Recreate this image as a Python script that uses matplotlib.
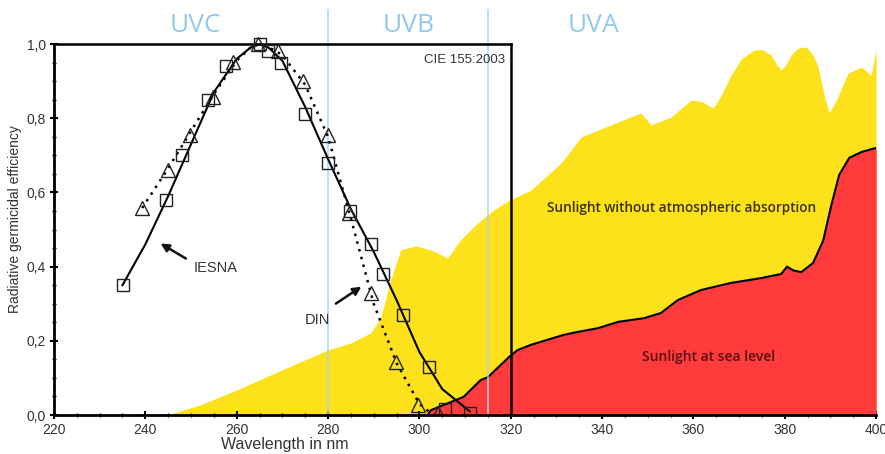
import numpy as np
import matplotlib.pyplot as plt
from matplotlib.ticker import MultipleLocator, FuncFormatter

# Sonnenspektrum ohne Atmosphaere (gelb)
sun_top_nm = [244.8, 252.0, 259.9, 269.6, 279.9, 284.9, 289.3, 291.5, 293.7, 295.9,
              299.2, 302.5, 306.2, 309.0, 312.3, 315.6, 319.8, 324.4, 331.0, 335.4,
              341.9, 348.5, 350.7, 355.1, 359.5, 361.8, 364.3, 366.0, 368.2, 370.5,
              373.3, 375.0, 377.0, 378.2, 379.2, 380.3, 381.4, 382.5, 383.6, 384.8,
              386.2, 387.3, 388.6, 389.7, 391.3, 393.9, 396.8, 398.9, 400.0]
sun_top_val = [0.0, 0.027, 0.067, 0.12, 0.175, 0.194, 0.221, 0.261, 0.364, 0.445,
               0.456, 0.445, 0.423, 0.472, 0.512, 0.547, 0.58, 0.606, 0.679, 0.749,
               0.782, 0.814, 0.782, 0.803, 0.849, 0.845, 0.827, 0.86, 0.916, 0.96,
               0.984, 0.985, 0.97, 0.945, 0.93, 0.945, 0.97, 0.985, 0.992, 0.99,
               0.97, 0.938, 0.863, 0.814, 0.849, 0.922, 0.938, 0.916, 0.984]

# Sonnenspektrum auf Meereshoehe (rot)
sun_sea_nm = [301.8, 302.5, 309.7, 313.4, 315.0, 319.6, 321.5, 324.4, 331.6, 334.7,
              339.1, 343.5, 349.2, 352.9, 355.1, 356.6, 361.7, 368.2, 374.8, 379.2,
              380.5, 381.8, 383.6, 386.2, 388.4, 390.2, 391.9, 394.1, 396.8, 400.0]
sun_sea_val = [0.0, 0.013, 0.049, 0.094, 0.102, 0.156, 0.175, 0.189, 0.216, 0.224,
               0.234, 0.251, 0.261, 0.275, 0.296, 0.31, 0.337, 0.356, 0.369, 0.38,
               0.40, 0.39, 0.385, 0.41, 0.47, 0.566, 0.647, 0.693, 0.709, 0.72]

# IESNA Kurve (Linie) i mjerne tocke (kvadrati)
iesna_nm = [235, 240, 245, 250, 255, 260, 263, 265, 267, 270, 275, 280, 285, 290,
            295, 300, 305, 311]
iesna_val = [0.35, 0.46, 0.59, 0.73, 0.87, 0.96, 0.99, 1.0, 0.99, 0.955, 0.83, 0.69,
             0.555, 0.44, 0.31, 0.17, 0.07, 0.01]
iesna_pts_nm = [235.1, 244.5, 248.1, 253.8, 257.7, 265.2, 266.9, 269.8, 275.0, 280.1,
                284.9, 289.3, 292.1, 296.5, 302.0, 305.5, 311.0]
iesna_pts_val = [0.35, 0.58, 0.70, 0.85, 0.94, 1.0, 0.98, 0.95, 0.81, 0.68,
                 0.55, 0.46, 0.38, 0.27, 0.13, 0.015, 0.005]

# DIN Kurve (punktirano) i trokuti
din_nm = [239.3, 245, 250, 255, 260, 263, 265, 268, 270, 275, 280, 285, 290, 295, 300, 303]
din_val = [0.558, 0.665, 0.765, 0.865, 0.955, 0.99, 1.0, 0.985, 0.97, 0.89, 0.75,
           0.53, 0.30, 0.14, 0.03, 0.0]
din_pts_nm = [239.3, 245.0, 249.8, 254.9, 259.3, 264.7, 269.1, 274.6, 279.9, 284.5,
              289.3, 294.8, 299.6, 304.0]
din_pts_val = [0.558, 0.66, 0.755, 0.857, 0.951, 1.0, 0.98, 0.90, 0.755, 0.544,
               0.329, 0.143, 0.027, 0.005]

uv_bands = ['UVC', 'UVB', 'UVA']
uv_label_nm = [251.0, 297.6, 338.2]
uv_borders = [280, 315]

fig = plt.figure(figsize=(8.85, 4.54), dpi=100)
ax = fig.add_axes([0.061, 0.0859, 0.929, 0.9141])

ax.fill_between(sun_top_nm, 0, sun_top_val, color='#FDE11B', lw=0, zorder=1)
ax.fill_between(sun_sea_nm, 0, sun_sea_val, color='#FF3B3B', lw=0, zorder=2)
ax.plot(sun_sea_nm, sun_sea_val, color='black', lw=1.5, zorder=3)

for b in uv_borders:
    ax.plot([b, b], [0, 1.092], color='#A9D3F0', lw=1.2, alpha=0.9, zorder=4)
for name, xn in zip(uv_bands, uv_label_nm):
    ax.text(xn, 1.05, name, color='#93C9EE', fontsize=19, family='Open Sans',
            ha='center', va='center', zorder=8)

# okvir lijevog dijagrama
ax.plot([220, 320], [1.0, 1.0], color='black', lw=1.8, zorder=5)
ax.plot([320, 320], [0, 1.0], color='black', lw=1.8, zorder=5)

ax.plot(iesna_nm, iesna_val, color='black', lw=1.5, zorder=6)
ax.plot(din_nm, din_val, color='black', lw=1.8, ls=(0, (1, 2.2)), zorder=6)
ax.plot(iesna_pts_nm, iesna_pts_val, ls='none', marker='s', ms=9, mfc='none',
        mec='#222222', mew=1.0, zorder=7)
ax.plot(din_pts_nm, din_pts_val, ls='none', marker='^', ms=10, mfc='none',
        mec='#222222', mew=1.0, zorder=7)

ax.text(318.7, 0.957, 'CIE 155:2003', fontsize=9.5, ha='right', va='center',
        color='#333333', family='Liberation Sans', zorder=8)
ax.text(250.5, 0.395, 'IESNA', fontsize=10.5, ha='left', va='center',
        color='#333333', family='Liberation Sans', zorder=8)
ax.annotate('', xy=(242.8, 0.466), xytext=(249.4, 0.418),
            arrowprops=dict(arrowstyle='-|>', color='#111111', lw=1.8,
                            mutation_scale=12), zorder=8)
ax.text(275.0, 0.256, 'DIN', fontsize=10.5, ha='left', va='center',
        color='#333333', family='Liberation Sans', zorder=8)
ax.annotate('', xy=(287.8, 0.350), xytext=(281.2, 0.296),
            arrowprops=dict(arrowstyle='-|>', color='#111111', lw=1.8,
                            mutation_scale=12), zorder=8)

ax.text(357.5, 0.558, 'Sunlight without atmospheric absorption', fontsize=9.8,
        ha='center', va='center', color='#3A3200', family='Open Sans',
        weight='semibold', zorder=8)
ax.text(363.4, 0.156, 'Sunlight at sea level', fontsize=10, ha='center',
        va='center', color='#5A0F0F', family='Open Sans', weight='semibold', zorder=8)

ax.set_xlim(220, 400)
ax.set_ylim(0, 1.1186)
for s in ['top', 'right']:
    ax.spines[s].set_visible(False)
ax.spines['left'].set_bounds(0, 1.0)
ax.spines['left'].set_linewidth(2)
ax.spines['bottom'].set_linewidth(2)
ax.spines['left'].set_zorder(9)
ax.spines['bottom'].set_zorder(9)

ax.set_xticks(np.arange(220, 401, 20))
ax.xaxis.set_minor_locator(MultipleLocator(5))
ax.set_yticks(np.arange(0, 1.01, 0.2))
ax.set_yticks([v for v in np.arange(0, 1.001, 0.05) if abs(v / 0.2 - round(v / 0.2)) > 0.01],
              minor=True)
ax.yaxis.set_major_formatter(FuncFormatter(lambda v, p: f'{v:.1f}'.replace('.', ',')))
ax.tick_params(axis='both', which='major', direction='inout', length=6, width=1.5,
               labelsize=10, labelcolor='#333333', pad=3)
ax.tick_params(axis='both', which='minor', direction='inout', length=3, width=1)
for lab in ax.get_xticklabels() + ax.get_yticklabels():
    lab.set_family('Liberation Sans')

ax.set_xlabel('Wavelength in nm', fontsize=11.5, family='Liberation Sans',
              color='#333333')
ax.xaxis.set_label_coords(0.281, -0.052)
ax.text(-0.047, 0.472, 'Radiative germicidal efficiency', transform=ax.transAxes,
        rotation=90, fontsize=10, family='Liberation Sans', color='#333333',
        ha='center', va='center')
ax.set_facecolor('none')

fig.savefig('out.png', dpi=100)
